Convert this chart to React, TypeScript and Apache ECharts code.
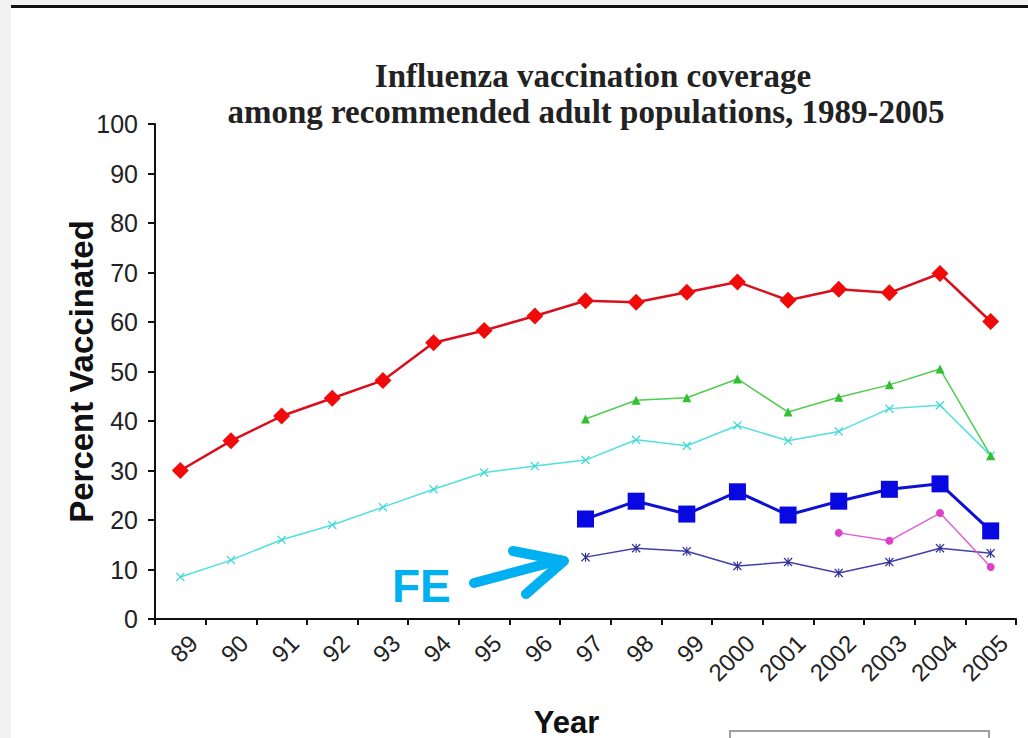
import React, { useEffect, useRef } from "react";
import * as echarts from "echarts";

const years = ["89", "90", "91", "92", "93", "94", "95", "96", "97", "98", "99", "2000", "2001", "2002", "2003", "2004", "2005"];
const yTicks = [0, 10, 20, 30, 40, 50, 60, 70, 80, 90, 100];

const redSeries = [30, 36, 41, 44.6, 48.2, 55.8, 58.3, 61.2, 64.3, 64, 66, 68.1, 64.4, 66.6, 65.9, 69.8, 60.1];
const cyanSeries = [8.5, 11.9, 16, 19, 22.6, 26.2, 29.6, 30.9, 32.1, 36.2, 35, 39.1, 36, 37.9, 42.5, 43.2, 33];
const greenSeries = [null, null, null, null, null, null, null, null, 40.4, 44.2, 44.7, 48.5, 41.8, 44.8, 47.3, 50.5, 33];
const blueSeries = [null, null, null, null, null, null, null, null, 20.2, 23.8, 21.2, 25.7, 21, 23.8, 26.2, 27.3, 17.8];
const magentaSeries = [null, null, null, null, null, null, null, null, null, null, null, null, null, 17.4, 15.8, 21.4, 10.5];
const navySeries = [null, null, null, null, null, null, null, null, 12.5, 14.3, 13.7, 10.7, 11.5, 9.3, 11.5, 14.3, 13.3];

const titleLine1 = "Influenza vaccination coverage";
const titleLine2 = "among recommended adult populations, 1989-2005";
const yName = "Percent Vaccinated";
const xName = "Year";
const noteText = "FE";

const xSym = "path://M0,1 L1,0 L5,4 L9,0 L10,1 L6,5 L10,9 L9,10 L5,6 L1,10 L0,9 L4,5 Z";
const starSym = "path://M0,1 L1,0 L5,4 L9,0 L10,1 L6,5 L10,9 L9,10 L5,6 L1,10 L0,9 L4,5 Z M4.4,0 L5.6,0 L5.6,10 L4.4,10 Z";

function line(name: string, data: any[], color: string, lineColor: string, width: number, symbol: string, size: number, z = 2) {
  return {
    name,
    type: "line",
    data,
    z,
    xAxisIndex: 0,
    yAxisIndex: 0,
    symbol,
    symbolSize: size,
    showSymbol: true,
    connectNulls: false,
    lineStyle: { color: lineColor, width },
    itemStyle: { color, borderWidth: 0 },
    emphasis: { disabled: true },
  };
}

export default function App() {
  const ref = useRef<HTMLDivElement>(null);
  useEffect(() => {
    if (!ref.current) return;
    const chart = echarts.init(ref.current, null, { renderer: "svg" });
    const blue = "#00b0f0";
    chart.setOption({
      animation: false,
      backgroundColor: "#f1f1f1",
      grid: [
        { left: 155, right: 12, top: 124, bottom: 119, containLabel: false, outerBoundsMode: "none" },
        { left: 168, right: -1, top: 124, bottom: 119, containLabel: false, outerBoundsMode: "none" },
      ],
      graphic: [
        { type: "rect", z: -10, shape: { x: 11, y: 7, width: 1017, height: 731 }, style: { fill: "#ffffff" } },
        { type: "rect", z: -9, shape: { x: 11, y: 5, width: 1017, height: 3 }, style: { fill: "#111111" } },
        { type: "rect", z: -9, shape: { x: 730, y: 731, width: 259, height: 20 }, style: { fill: "#ffffff", stroke: "#a0a0a0", lineWidth: 2 } },
        {
          type: "text", x: 593, y: 76,
          style: { text: titleLine1, fontFamily: "Liberation Serif", fontWeight: "bold", fontSize: 33, fill: "#222", textAlign: "center", textVerticalAlign: "middle" },
        },
        {
          type: "text", x: 586, y: 112,
          style: { text: titleLine2, fontFamily: "Liberation Serif", fontWeight: "bold", fontSize: 33, fill: "#222", textAlign: "center", textVerticalAlign: "middle" },
        },
        {
          type: "text", x: 392, y: 586,
          style: { text: noteText, fontFamily: "Liberation Sans", fontWeight: "bold", fontSize: 46, fill: blue, textAlign: "left", textVerticalAlign: "middle" },
        },
        { type: "polyline", shape: { points: [[474, 583], [560, 560]] }, style: { stroke: blue, lineWidth: 10, lineCap: "round", fill: null } },
        { type: "polyline", shape: { points: [[513, 551], [564, 561], [526, 594]] }, style: { stroke: blue, lineWidth: 10, lineCap: "round", lineJoin: "round", fill: null } },
      ],
      xAxis: [
        {
          type: "category",
          gridIndex: 0,
          data: years,
          boundaryGap: true,
          name: xName,
          nameLocation: "middle",
          nameGap: 88,
          nameMoveOverlap: false,
          nameTextStyle: { fontFamily: "Liberation Sans", fontWeight: "bold", fontSize: 31, lineHeight: 30, color: "#111", padding: [0, 38, 0, 0] },
          axisLine: { lineStyle: { color: "#111", width: 2 } },
          axisTick: { show: true, length: 6, lineStyle: { color: "#111", width: 2 }, alignWithLabel: false },
          axisLabel: { show: false },
          splitLine: { show: false },
        },
        {
          type: "category",
          gridIndex: 1,
          data: years,
          boundaryGap: true,
          axisLine: { show: false },
          axisTick: { show: false },
          axisLabel: { rotate: 45, interval: 0, margin: 20, fontFamily: "Liberation Sans", fontSize: 24, color: "#222" },
          splitLine: { show: false },
        },
      ],
      yAxis: [
        {
          type: "value",
          gridIndex: 0,
          min: 0,
          max: 100,
          interval: 10,
          name: yName,
          nameLocation: "middle",
          nameGap: 57,
          nameMoveOverlap: false,
          nameRotate: 90,
          nameTextStyle: { fontFamily: "Liberation Sans", fontWeight: "bold", fontSize: 33, color: "#111" },
          axisLine: { show: true, lineStyle: { color: "#111", width: 2 } },
          axisTick: { show: true, length: 7, lineStyle: { color: "#111", width: 2 } },
          axisLabel: { margin: 17, fontFamily: "Liberation Sans", fontSize: 25, color: "#222", formatter: (v: number) => (yTicks.includes(v) ? String(v) : "") },
          splitLine: { show: false },
        },
        {
          type: "value",
          gridIndex: 1,
          min: 0,
          max: 100,
          interval: 10,
          show: false,
        },
      ],
      series: [
        line("cyan", cyanSeries, "#40d8d8", "#50e0e0", 1.5, xSym, 9),
        line("green", greenSeries, "#30c030", "#50cc50", 1.5, "triangle", 9),
        line("navy", navySeries, "#303090", "#4040a8", 1.5, starSym, 9),
        line("magenta", magentaSeries, "#e040c8", "#e060d0", 1.5, "circle", 8),
        line("blue", blueSeries, "#0808e0", "#1010d0", 3, "rect", 17, 3),
        line("red", redSeries, "#f00a0a", "#d8101e", 2.5, "diamond", 17, 4),
      ],
    });
    return () => chart.dispose();
  }, []);
  return <div ref={ref} style={{ position: "fixed", left: 0, top: 0, width: 1028, height: 738 }} />;
}
